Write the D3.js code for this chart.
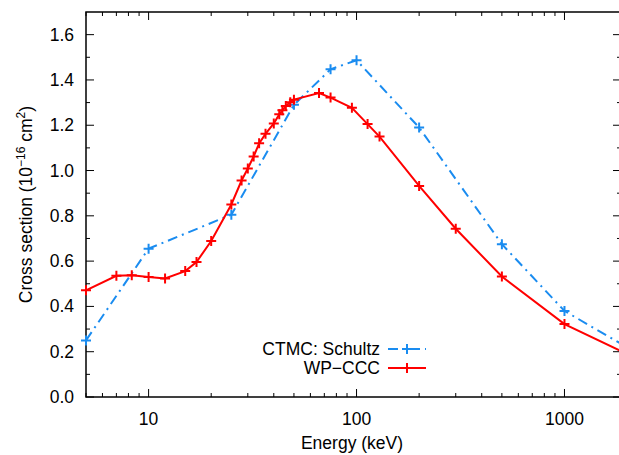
<!DOCTYPE html>
<html>
<head>
<meta charset="utf-8">
<script src="https://cdn.jsdelivr.net/npm/d3@7"></script>
<style>
  body { margin: 0; background: #fff; }
  svg { display: block; font-family: "Liberation Sans", Arial, sans-serif; }
</style>
</head>
<body>
<svg width="619" height="455"></svg>
<script>
// data
var ctmcEnergy = [5, 10, 25, 50, 75, 100, 200, 500, 1000, 2000];
var ctmcValue  = [0.25, 0.655, 0.805, 1.29, 1.447, 1.487, 1.19, 0.675, 0.38, 0.22];

var wpEnergy = [5, 7, 8.3, 10, 12, 15, 17, 20, 25, 28, 30, 32, 34, 36.5, 40, 42.5, 44, 45.7, 48, 50,
                66, 75, 95, 113, 129, 200, 300, 500, 1000, 2000];
var wpValue  = [0.471, 0.535, 0.538, 0.53, 0.523, 0.556, 0.596, 0.689, 0.85, 0.956, 1.009, 1.062, 1.12, 1.162, 1.208, 1.248, 1.266, 1.285, 1.302, 1.313,
                1.342, 1.322, 1.277, 1.205, 1.15, 0.932, 0.743, 0.532, 0.322, 0.19];

var xTickValues = [10, 100, 1000];
var yTickValues = [0, 0.2, 0.4, 0.6, 0.8, 1.0, 1.2, 1.4, 1.6];

var svg = d3.select("svg");
// the frame runs a little past the right edge of the picture
var pLeft = 86, pRight = 621, pTop = 12, pBottom = 397;

var x = d3.scaleLog().domain([5, 1870]).range([pLeft, pRight]);
var y = d3.scaleLinear().domain([0, 1.7]).range([pBottom, pTop]);

// minor ticks
var xMinor = [];
[1, 10, 100, 1000].forEach(function(d) {
  for (var i = 2; i <= 9; i++) {
    var v = d * i;
    if (v >= 5 && v <= 1870) xMinor.push(v);
  }
});
var yMinor = d3.range(0.1, 1.7, 0.2);

var tickColor = "#000";
var g = svg.append("g");

// x ticks bottom + top
xTickValues.forEach(function(v) {
  g.append("line").attr("x1", x(v)).attr("x2", x(v)).attr("y1", pBottom).attr("y2", pBottom - 8).attr("stroke", tickColor);
  g.append("line").attr("x1", x(v)).attr("x2", x(v)).attr("y1", pTop).attr("y2", pTop + 8).attr("stroke", tickColor);
  g.append("text").attr("x", x(v)).attr("y", 425).attr("text-anchor", "middle")
    .attr("font-size", 17.5).text(v);
});
xMinor.forEach(function(v) {
  g.append("line").attr("x1", x(v)).attr("x2", x(v)).attr("y1", pBottom).attr("y2", pBottom - 4).attr("stroke", tickColor);
  g.append("line").attr("x1", x(v)).attr("x2", x(v)).attr("y1", pTop).attr("y2", pTop + 4).attr("stroke", tickColor);
});

// y ticks left + right
yTickValues.forEach(function(v) {
  g.append("line").attr("x1", pLeft).attr("x2", pLeft + 8).attr("y1", y(v)).attr("y2", y(v)).attr("stroke", tickColor);
  g.append("line").attr("x1", pRight).attr("x2", pRight - 8).attr("y1", y(v)).attr("y2", y(v)).attr("stroke", tickColor);
  g.append("text").attr("x", 74).attr("y", y(v) + 6).attr("text-anchor", "end")
    .attr("font-size", 17.5).text(v.toFixed(1));
});
yMinor.forEach(function(v) {
  g.append("line").attr("x1", pLeft).attr("x2", pLeft + 4).attr("y1", y(v)).attr("y2", y(v)).attr("stroke", tickColor);
  g.append("line").attr("x1", pRight).attr("x2", pRight - 4).attr("y1", y(v)).attr("y2", y(v)).attr("stroke", tickColor);
});

// frame
svg.append("rect").attr("x", pLeft).attr("y", pTop).attr("width", pRight - pLeft).attr("height", pBottom - pTop)
  .attr("fill", "none").attr("stroke", "#000").attr("stroke-width", 1.5);

// axis titles
svg.append("text").attr("x", 352).attr("y", 449).attr("text-anchor", "middle")
  .attr("font-size", 17.5).text("Energy (keV)");
var yl = svg.append("text").attr("transform", "translate(32," + ((pTop + pBottom) / 2) + ") rotate(-90)")
  .attr("text-anchor", "middle").attr("font-size", 17.5);
yl.append("tspan").text("Cross section (10");
yl.append("tspan").attr("dy", -7).attr("font-size", 12).text("\u221216");
yl.append("tspan").attr("dy", 7).text(" cm");
yl.append("tspan").attr("dy", -7).attr("font-size", 12).text("2");
yl.append("tspan").attr("dy", 7).text(")");

// clip for lines
svg.append("clipPath").attr("id", "plotclip").append("rect")
  .attr("x", pLeft).attr("y", pTop).attr("width", pRight - pLeft).attr("height", pBottom - pTop);

var line = d3.line().x(function(d) { return x(d[0]); }).y(function(d) { return y(d[1]); });

var series = [
  {name: "CTMC: Schultz", energy: ctmcEnergy, value: ctmcValue, color: "#1a8cf0", dash: "10,5,2,5"},
  {name: "WP\u2212CCC", energy: wpEnergy, value: wpValue, color: "#ff0000", dash: null}
];

function plus(sel, cx, cy, color) {
  sel.append("path")
    .attr("d", "M" + (cx - 5) + "," + cy + "H" + (cx + 5) + "M" + cx + "," + (cy - 5) + "V" + (cy + 5))
    .attr("stroke", color).attr("stroke-width", 2).attr("fill", "none");
}

series.forEach(function(s, si) {
  var pts = s.energy.map(function(e, i) { return [e, s.value[i]]; });
  svg.append("path").datum(pts)
    .attr("d", line)
    .attr("clip-path", "url(#plotclip)")
    .attr("fill", "none")
    .attr("stroke", s.color)
    .attr("stroke-width", 2)
    .attr("stroke-dasharray", s.dash);
  var mg = svg.append("g");
  pts.forEach(function(p) {
    if (p[0] <= 1870) plus(mg, x(p[0]), y(p[1]), s.color);
  });

  // legend
  var ly = 349 + si * 19;
  svg.append("text").attr("x", 380).attr("y", ly + 6).attr("text-anchor", "end")
    .attr("font-size", 17.5).text(s.name);
  svg.append("line").attr("x1", 388).attr("x2", 426).attr("y1", ly).attr("y2", ly)
    .attr("stroke", s.color).attr("stroke-width", 2).attr("stroke-dasharray", s.dash);
  plus(svg, 407, ly, s.color);
});
</script>
</body>
</html>
